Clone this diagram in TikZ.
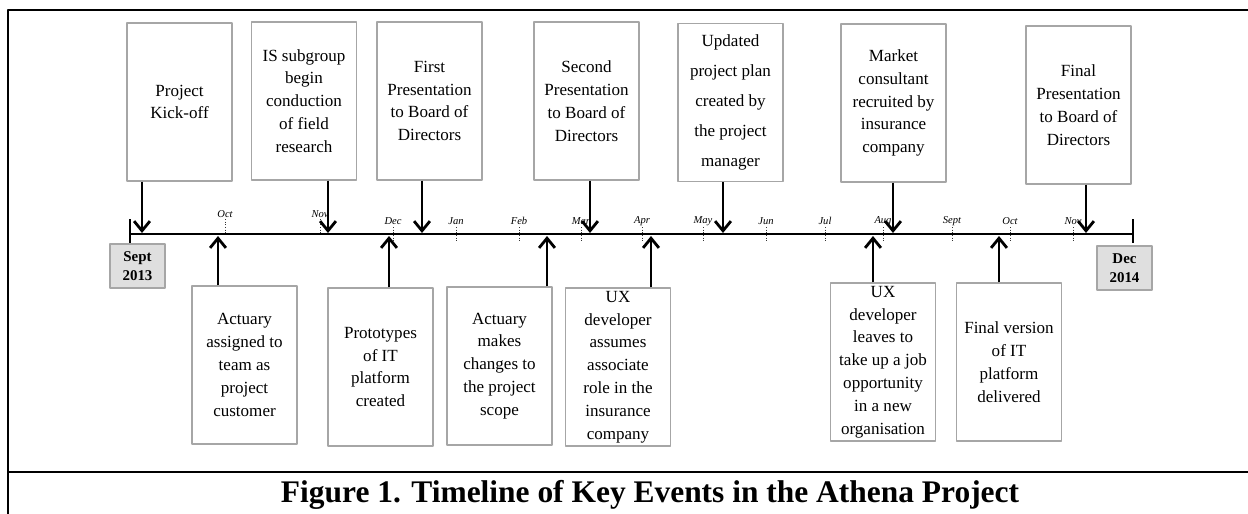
\documentclass[tikz,border=0pt]{standalone}
\usepackage{fontspec}
\setmainfont{Liberation Serif}
\usetikzlibrary{arrows.meta}
\begin{document}
\begin{tikzpicture}[x=0.02cm, y=-0.02cm, line join=round, >={Straight Barb[length=5.5pt,width=9pt]},
	hop/.style={draw=gray!70, fill=white, line width=0.6pt, minimum width=2.1cm, minimum height=3.16cm, inner sep=0pt, align=center, font=\fontsize{9.7}{13}\selectfont},
	moc/.style={draw=gray!70, fill=gray!25, line width=0.6pt, minimum width=1.1cm, minimum height=0.88cm, inner sep=0pt, align=center, font=\bfseries\fontsize{8.5}{10.8}\selectfont},
	thang/.style={font=\itshape\fontsize{6}{7}\selectfont, inner sep=0pt},
	vach/.style={densely dotted, gray!40!black, line width=0.5pt},
	mui/.style={->, line width=1.6pt}]
	\useasboundingbox (0,0) rectangle (1248,514);
	\def\tl{234} % trục thời gian
	% khung
	\draw[line width=1.5pt] (1248,10)--(8,10)--(8,514) (8,472)--(1248,472);
	\node[font=\bfseries\fontsize{17.9}{20}\selectfont] (tieude) at (650,495) {Figure 1. Timeline of Key Events in the Athena Project};
	% trục
	\draw[line width=1.3pt] (130,219)--(130,243) (130,\tl)--(1133,\tl) (1133,219)--(1133,243);
	% các tháng
	\foreach \x/\t in {225/Oct,320/Nov}{
		\draw[vach] (\x,219)--(\x,233);
		\node[thang] (m\x) at (\x,214) {\t};
	}
	\foreach \x/\t in {393/Dec,456/Jan,519/Feb,581/Mar,642/Apr,703/May,766/Jun,825/Jul,883/Aug,952/Sept,1010/Oct,1073/Nov}{
		\draw[vach] (\x,227)--(\x,241);
		\node[thang] (m\x) at (\x,221) {\t};
	}
	\path 
	(137.5,266) node[moc] (S13) {Sept\\2013}
	(1124.5,268) node[moc] (D14) {Dec\\2014}
	(179.5,102) node[hop] (KO) {Project\\Kick-off}
	(304,101) node[hop] (FR) {IS subgroup\\begin\\conduction\\of field\\research}
	(429.5,101) node[hop] (P1) {First\\Presentation\\to Board of\\Directors}
	(586.5,101) node[hop] (P2) {Second\\Presentation\\to Board of\\Directors}
	(730.5,102.5) node[hop, font=\fontsize{9.7}{17}\selectfont] (UP) {Updated\\project plan\\created by\\the project\\manager}
	(893.5,103) node[hop] (MC) {Market\\consultant\\recruited by\\insurance\\company}
	(1078.5,105) node[hop] (P3) {Final\\Presentation\\to Board of\\Directors}
	(244.5,365) node[hop] (AA) {Actuary\\assigned to\\team as\\project\\customer}
	(380.5,367) node[hop] (PT) {Prototypes\\of IT\\platform\\created}
	(499.5,366) node[hop] (AC) {Actuary\\makes\\changes to\\the project\\scope}
	(618,367) node[hop] (UX1) {UX\\developer\\assumes\\associate\\role in the\\insurance\\company}
	(883,362) node[hop] (UX2) {UX\\developer\\leaves to\\take up a job\\opportunity\\in a new\\organisation}
	(1009,362) node[hop] (FV) {Final version\\of IT\\platform\\delivered};
	% điểm trên trục
	\coordinate (a1) at (142,233);
	\coordinate (a2) at (328,233);
	\coordinate (a3) at (422,233);
	\coordinate (a4) at (590,233);
	\coordinate (a5) at (723,233);
	\coordinate (a6) at (893,233);
	\coordinate (a7) at (1086,233);
	\coordinate (b1) at (218,236);
	\coordinate (b2) at (389,236);
	\coordinate (b3) at (547,236);
	\coordinate (b4) at (651,236);
	\coordinate (b5) at (873,236);
	\coordinate (b6) at (999,236);
	\draw[mui] (KO.south -| a1)--(a1);
	\draw[mui] (FR.south -| a2)--(a2);
	\draw[mui] (P1.south -| a3)--(a3);
	\draw[mui] (P2.south -| a4)--(a4);
	\draw[mui] (UP.south -| a5)--(a5);
	\draw[mui] (MC.south -| a6)--(a6);
	\draw[mui] (P3.south -| a7)--(a7);
	\draw[mui] (AA.north -| b1)--(b1);
	\draw[mui] (PT.north -| b2)--(b2);
	\draw[mui] (AC.north -| b3)--(b3);
	\draw[mui] (UX1.north -| b4)--(b4);
	\draw[mui] (UX2.north -| b5)--(b5);
	\draw[mui] (FV.north -| b6)--(b6);
\end{tikzpicture}
\end{document}
